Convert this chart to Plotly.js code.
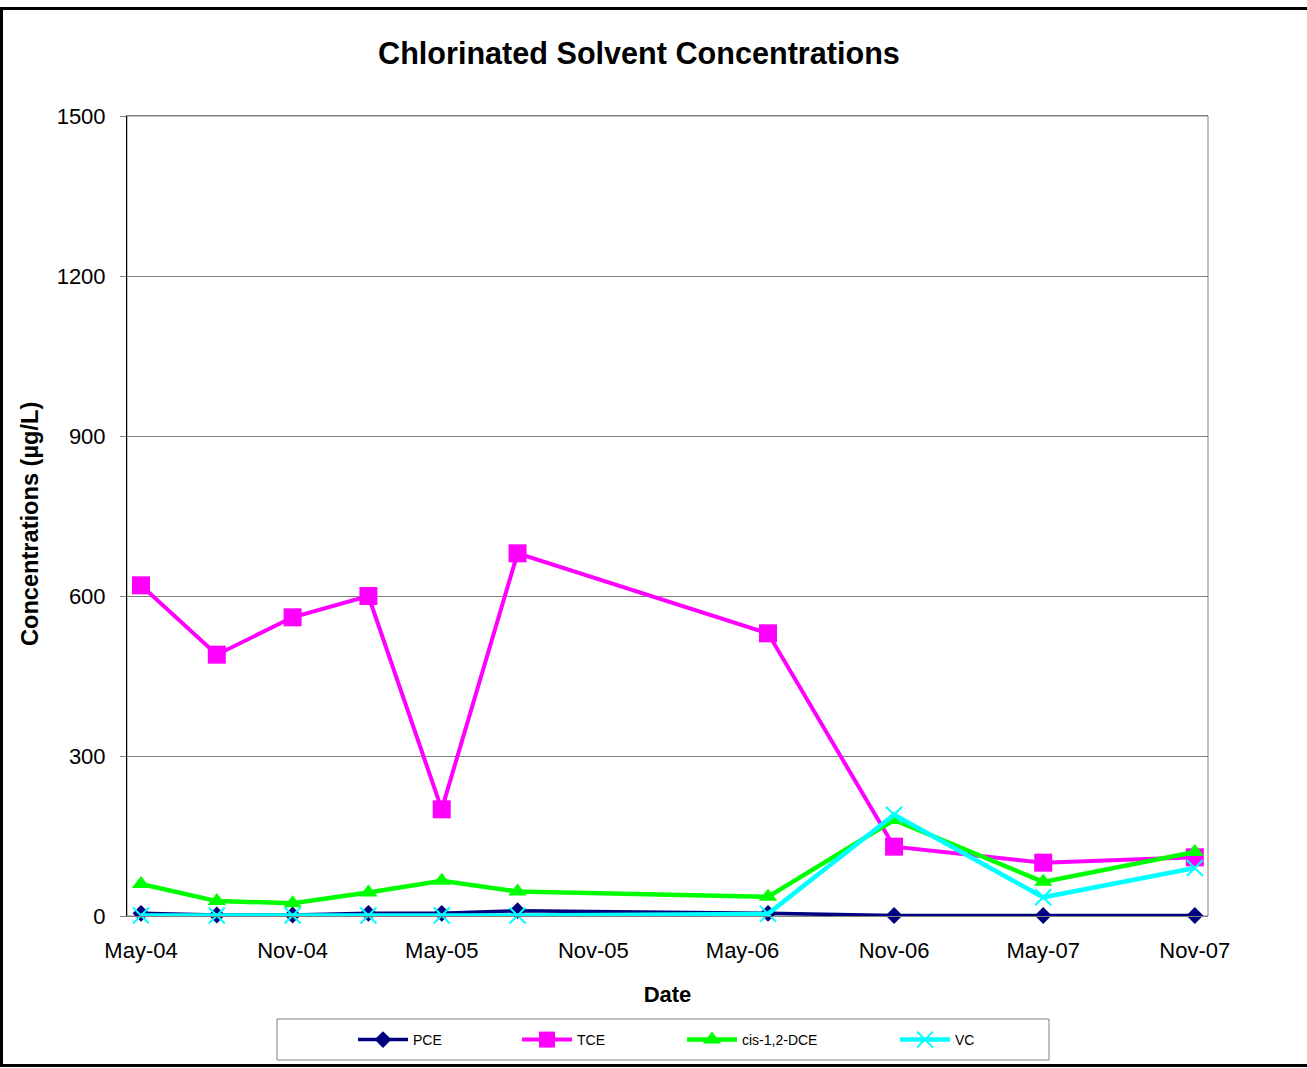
<!DOCTYPE html>
<html>
<head>
<meta charset="utf-8">
<script src="https://cdn.plot.ly/plotly-3.0.1.min.js"></script>
<style>
html,body{margin:0;padding:0;background:#fff;}
#chart{position:absolute;left:0;top:0;width:1307px;height:1068px;}
#frame{position:absolute;left:0;top:7px;width:1312px;height:1060px;box-sizing:border-box;border:3px solid #000;pointer-events:none;}
</style>
</head>
<body>
<div id="chart"></div>
<div id="frame"></div>
<script>
const dates = ['2004-05-01','2004-08-01','2004-11-01','2005-02-01','2005-05-01','2005-08-01','2006-06-01','2006-11-01','2007-05-01','2007-11-01'];
const pce = [5, 2, 2, 5, 5, 10, 5, 1, 1, 1];
const tce = [620, 490, 560, 600, 200, 680, 530, 130, 100, 110];
const dce = [60, 28, 24, 44, 66, 46, 36, 180, 64, 120];
const vc  = [1, 1, 1, 1, 1, 1, 4, 190, 35, 90];
const seriesNames = ['PCE', 'TCE', 'cis-1,2-DCE', 'VC'];
const yTitle = 'Concentrations (µg/L)';

const FONT = 'Liberation Sans, Arial, sans-serif';

const traces = [
  {x: dates, y: pce, name: seriesNames[0], type: 'scatter', mode: 'lines+markers', legend: 'legend', cliponaxis: false,
   line: {color: '#000080', width: 3.5}, marker: {symbol: 'diamond', size: 13, color: '#000080'}},
  {x: dates, y: tce, name: seriesNames[1], type: 'scatter', mode: 'lines+markers', legend: 'legend2', cliponaxis: false,
   line: {color: '#FF00FF', width: 4}, marker: {symbol: 'square', size: 18, color: '#FF00FF'}},
  {x: dates, y: dce, name: seriesNames[2], type: 'scatter', mode: 'lines+markers', legend: 'legend3', cliponaxis: false,
   line: {color: '#00FF00', width: 4.5}, marker: {symbol: 'triangle-up', size: 16, color: '#00FF00'}},
  {x: dates, y: vc, name: seriesNames[3], type: 'scatter', mode: 'lines+markers', legend: 'legend4', cliponaxis: false,
   line: {color: '#00FFFF', width: 4.5}, marker: {symbol: 'x-thin', size: 16, color: '#00FFFF', line: {color: '#00FFFF', width: 2}}}
];

function leg(xpx) {
  return {x: (xpx - 127) / 1081, y: -0.155, xanchor: 'left', yanchor: 'middle',
    orientation: 'h', bgcolor: 'rgba(0,0,0,0)', borderwidth: 0, itemwidth: 50,
    font: {family: FONT, size: 14, color: '#000'}};
}

const layout = {
  width: 1307, height: 1068,
  margin: {l: 127, r: 99, t: 116, b: 152, pad: 0},
  paper_bgcolor: '#fff', plot_bgcolor: '#fff',
  font: {family: FONT, color: '#000'},
  title: {text: '<b>Chlorinated Solvent Concentrations</b>', font: {family: FONT, size: 30.6, color: '#000'},
    x: 0.4736, xanchor: 'center', y: 0.95, yanchor: 'middle', xref: 'paper'},
  xaxis: {
    type: 'date', range: ['2004-04-14', '2007-11-17'],
    tick0: '2004-05-01', dtick: 'M6', tickformat: '%b-%y',
    ticks: '', showgrid: false, zeroline: false,
    showline: true, linecolor: '#808080', linewidth: 1, mirror: true,
    tickfont: {family: FONT, size: 22, color: '#000'}, ticklabelstandoff: 15,
    title: {text: '<b>Date</b>', font: {family: FONT, size: 22, color: '#000'}, standoff: 24}
  },
  yaxis: {
    range: [0, 1500], tick0: 0, dtick: 300,
    ticks: 'outside', ticklen: 6, tickcolor: '#808080', tickwidth: 1,
    showgrid: true, gridcolor: '#808080', gridwidth: 1, zeroline: false,
    showline: true, linecolor: '#000', linewidth: 1,
    tickfont: {family: FONT, size: 22, color: '#000'}, ticklabelstandoff: 10
  },
  annotations: [
    {text: '<b>' + yTitle + '</b>', xref: 'paper', yref: 'paper', x: (30 - 127) / 1081, y: (916 - 524) / 800,
     xanchor: 'center', yanchor: 'middle', textangle: -90, showarrow: false,
     font: {family: FONT, size: 23.6, color: '#000'}}
  ],
  showlegend: true,
  legend: leg(353), legend2: leg(517), legend3: leg(682), legend4: leg(895),
  shapes: [
    {type: 'rect', xref: 'paper', yref: 'paper', x0: 0, x1: 1, y0: 0, y1: 1, line: {color: '#808080', width: 1}, layer: 'below'},
    {type: 'rect', xref: 'paper', yref: 'paper', x0: (277-127)/1081, x1: (1049-127)/1081, y0: (916-1060)/800, y1: (916-1019)/800,
     line: {color: '#808080', width: 1}, fillcolor: 'rgba(0,0,0,0)'}
  ]
};

Plotly.newPlot('chart', traces, layout, {displayModeBar: false, staticPlot: true});
</script>
</body>
</html>
